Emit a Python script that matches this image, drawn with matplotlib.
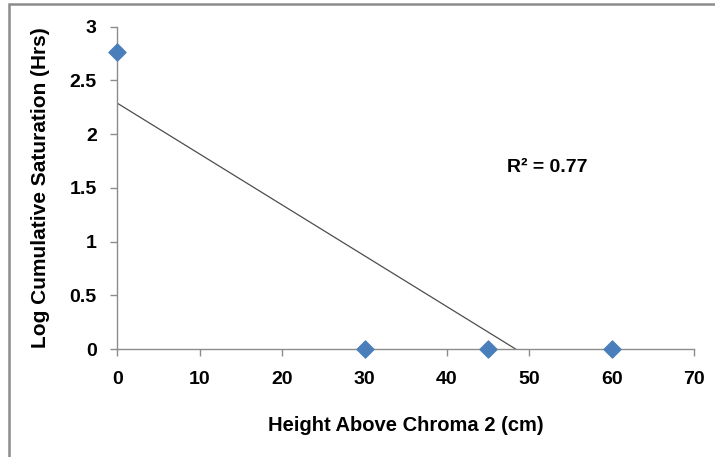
import numpy as np
import matplotlib
matplotlib.use("Agg")
import matplotlib.pyplot as plt
from matplotlib.patches import Rectangle

plt.rcParams['font.family'] = ['Liberation Sans', 'DejaVu Sans']

height_cm = [0, 30, 45, 60]
log_sat = [2.76, 0.0, 0.0, 0.0]
x_ticks = [0, 10, 20, 30, 40, 50, 60, 70]
y_ticks = [0, 0.5, 1, 1.5, 2, 2.5, 3]
y_tick_labels = ['0', '0.5', '1', '1.5', '2', '2.5', '3']

fig = plt.figure(figsize=(7.15, 4.57), dpi=100)
ax = fig.add_axes([117.5/715, 1-349/457, (694-117.5)/715, (349-26.7)/457])

# outer frame (right/bottom edges fall outside the image)
fig.patches.append(Rectangle((9/715, -0.05), 1.0, 1.05 - 4/457,
                             transform=fig.transFigure, fill=False,
                             edgecolor='#8c8c8c', linewidth=1.8))

# trendline
coef = np.polyfit(height_cm, log_sat, 1)
xs = np.array([min(height_cm), max(height_cm)])
ax.plot(xs, np.polyval(coef, xs), color='#4d4d4d', linewidth=0.9, zorder=2)
pred = np.polyval(coef, height_cm)
r2 = 1 - np.sum((np.array(log_sat) - pred)**2) / np.sum((np.array(log_sat) - np.mean(log_sat))**2)

ax.scatter(height_cm, log_sat, marker='D', s=75, color='#4a7ebb', zorder=3, clip_on=False)

ax.set_xlim(0, 70)
ax.set_ylim(0, 3)
ax.set_xticks(x_ticks)
ax.set_yticks(y_ticks)
ax.set_yticklabels(y_tick_labels)
for s in ['top', 'right']:
    ax.spines[s].set_visible(False)
for s in ['left', 'bottom']:
    ax.spines[s].set_color('#8c8c8c')
    ax.spines[s].set_linewidth(1.0)
ax.tick_params(axis='both', colors='#8c8c8c', length=5, width=1, direction='out',
               labelcolor='black', labelsize=14)
ax.tick_params(axis='x', pad=11)
ax.tick_params(axis='y', pad=10)
for lab in ax.get_xticklabels() + ax.get_yticklabels():
    lab.set_fontweight('bold')

ax.set_xlabel('Height Above Chroma 2 (cm)', fontsize=14.5, fontweight='bold', labelpad=20)
ax.set_ylabel('Log Cumulative Saturation (Hrs)', fontsize=15, fontweight='bold', labelpad=14)

ax.text(47.3, 1.69, f'R² = {r2:.2f}', fontsize=14, fontweight='bold', va='center', ha='left')

fig.savefig('out.png', dpi=100)
